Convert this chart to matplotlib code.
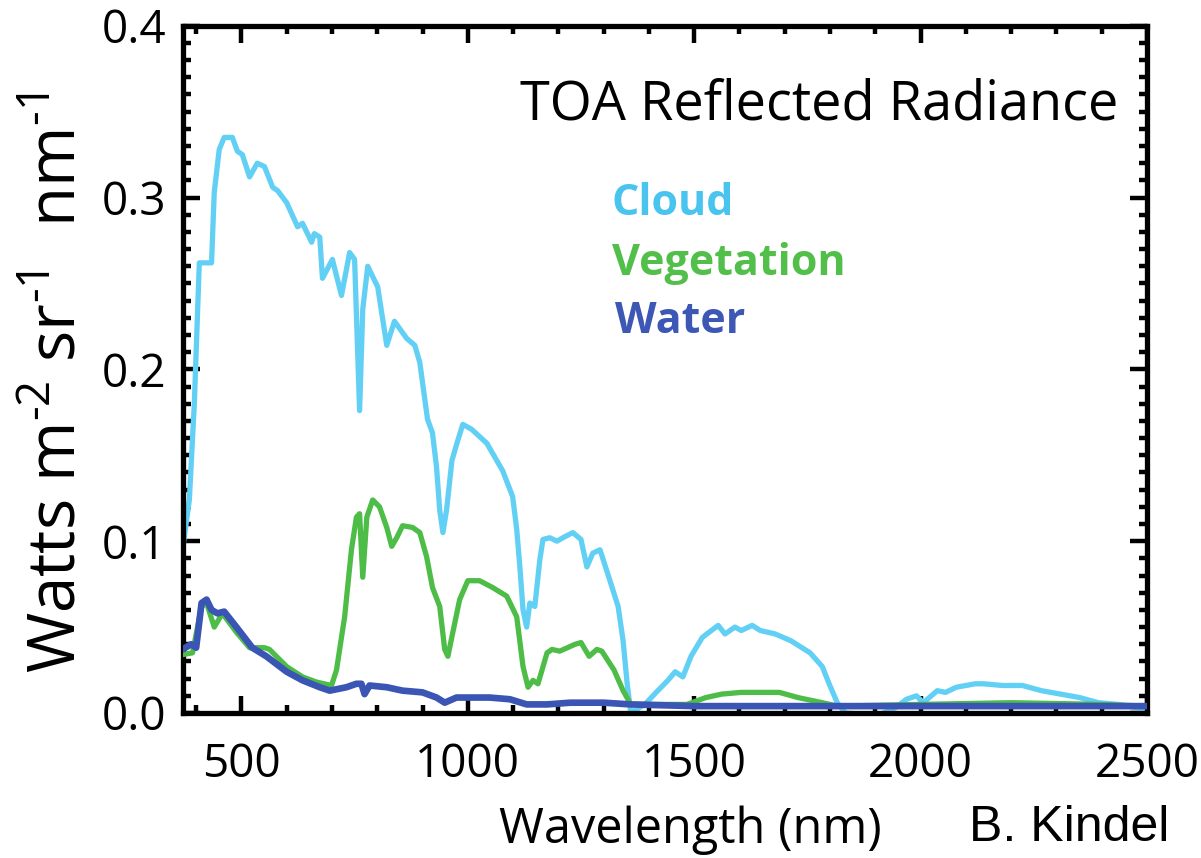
import matplotlib
matplotlib.use("Agg")
import matplotlib.pyplot as plt
from matplotlib.ticker import MultipleLocator, FormatStrFormatter

# ---- data ----
cloud_wl = [370, 385, 396, 407, 434, 440, 451, 462, 480, 491, 502, 518, 535, 551, 569, 580,
            600, 624, 635, 655, 661, 673, 679, 701, 721, 739, 750, 761, 768, 779, 801, 821,
            838, 865, 883, 894, 911, 922, 931, 938, 945, 953, 965, 976, 989, 1009, 1042,
            1077, 1099, 1108, 1115, 1122, 1130, 1137, 1148, 1159, 1166, 1181, 1197, 1210,
            1232, 1250, 1263, 1276, 1292, 1314, 1332, 1343, 1352, 1360, 1391, 1416, 1442,
            1458, 1475, 1493, 1518, 1553, 1568, 1590, 1604, 1628, 1646, 1679, 1714, 1756,
            1783, 1798, 1816, 1834, 1885, 1909, 1944, 1969, 1991, 2006, 2037, 2055, 2079,
            2121, 2139, 2181, 2225, 2267, 2309, 2351, 2393, 2437, 2480, 2500]
cloud_val = [0.095, 0.124, 0.180, 0.262, 0.262, 0.303, 0.328, 0.335, 0.335, 0.327, 0.325,
             0.312, 0.320, 0.318, 0.306, 0.304, 0.297, 0.283, 0.285, 0.274, 0.279, 0.277,
             0.253, 0.264, 0.243, 0.268, 0.264, 0.176, 0.235, 0.260, 0.248, 0.214, 0.228,
             0.218, 0.214, 0.204, 0.171, 0.163, 0.143, 0.118, 0.105, 0.118, 0.147, 0.157,
             0.168, 0.165, 0.157, 0.141, 0.126, 0.107, 0.085, 0.060, 0.050, 0.064, 0.062,
             0.089, 0.101, 0.102, 0.100, 0.102, 0.105, 0.101, 0.085, 0.093, 0.095, 0.077,
             0.062, 0.042, 0.017, 0.000, 0.005, 0.012, 0.019, 0.024, 0.021, 0.033, 0.044,
             0.051, 0.046, 0.050, 0.048, 0.051, 0.048, 0.046, 0.042, 0.035, 0.027, 0.017,
             0.006, 0.000, -0.001, -0.001, 0.003, 0.008, 0.010, 0.006, 0.013, 0.012, 0.015,
             0.017, 0.017, 0.016, 0.016, 0.013, 0.011, 0.009, 0.006, 0.005, 0.003, 0.002]

veg_wl = [370, 392, 412, 423, 440, 458, 489, 518, 551, 562, 600, 635, 666, 699, 710, 728,
          743, 754, 761, 768, 777, 790, 805, 821, 832, 843, 856, 878, 894, 909, 922, 938,
          949, 956, 967, 982, 1000, 1026, 1055, 1086, 1108, 1122, 1133, 1144, 1155, 1175,
          1186, 1203, 1237, 1250, 1268, 1285, 1296, 1323, 1343, 1360, 1416, 1484, 1526,
          1561, 1604, 1646, 1688, 1729, 1783, 1816, 2000, 2200, 2400, 2500]
veg_val = [0.034, 0.035, 0.062, 0.064, 0.050, 0.058, 0.047, 0.038, 0.038, 0.037, 0.027,
           0.021, 0.018, 0.016, 0.025, 0.056, 0.095, 0.114, 0.116, 0.079, 0.114, 0.124,
           0.120, 0.108, 0.097, 0.102, 0.109, 0.108, 0.105, 0.091, 0.073, 0.062, 0.037,
           0.033, 0.047, 0.066, 0.077, 0.077, 0.073, 0.068, 0.056, 0.027, 0.015, 0.019,
           0.017, 0.035, 0.037, 0.036, 0.040, 0.041, 0.033, 0.037, 0.036, 0.025, 0.013,
           0.005, 0.005, 0.005, 0.009, 0.011, 0.012, 0.012, 0.012, 0.009, 0.006, 0.004,
           0.005, 0.006, 0.005, 0.004]

water_wl = [370, 389, 400, 412, 423, 434, 447, 462, 489, 524, 555, 600, 635, 673, 695,
            732, 754, 765, 772, 783, 821, 856, 900, 931, 949, 975, 1004, 1048, 1093, 1130,
            1175, 1226, 1300, 1360, 1500, 1800, 2000, 2200, 2500]
water_val = [0.037, 0.040, 0.038, 0.064, 0.066, 0.060, 0.058, 0.059, 0.050, 0.038, 0.033,
             0.024, 0.019, 0.015, 0.013, 0.015, 0.017, 0.017, 0.011, 0.016, 0.015, 0.013,
             0.012, 0.009, 0.006, 0.009, 0.009, 0.009, 0.008, 0.005, 0.005, 0.006, 0.006,
             0.005, 0.004, 0.004, 0.004, 0.004, 0.004]

x_ticks = [500, 1000, 1500, 2000, 2500]
x_tick_labels = ['500', '1000', '1500', '2000', '2500']
y_ticks = [0.0, 0.1, 0.2, 0.3, 0.4]

# ---- style ----
plt.rcParams['font.family'] = ['Open Sans', 'DejaVu Sans']
plt.rcParams['mathtext.fontset'] = 'custom'
plt.rcParams['mathtext.rm'] = 'Open Sans'
c_cloud = '#62d0f5'
c_veg = '#4dbd48'
c_water = '#3b55b5'

fig = plt.figure(figsize=(12.01, 8.58), dpi=100)
ax = fig.add_axes([0.152, 0.169, 0.803, 0.801])

ax.plot(cloud_wl, cloud_val, color=c_cloud, lw=3.8, solid_joinstyle='round', zorder=2)
ax.plot(veg_wl, veg_val, color=c_veg, lw=3.8, solid_joinstyle='round', zorder=3)
ax.plot(water_wl, water_val, color=c_water, lw=4.8, solid_joinstyle='round', zorder=4)

ax.set_xlim(370, 2500)
ax.set_ylim(0, 0.4)
ax.set_xticks(x_ticks)
ax.set_yticks(y_ticks)
ax.xaxis.set_minor_locator(MultipleLocator(100))
ax.yaxis.set_minor_locator(MultipleLocator(0.01))
ax.yaxis.set_major_formatter(FormatStrFormatter('%.1f'))

for s in ax.spines.values():
    s.set_linewidth(3.8)
ax.tick_params(which='both', direction='in', top=True, right=True, width=3.2,
               labelsize=33)
ax.tick_params(which='major', length=12)
ax.tick_params(which='minor', length=6)
ax.tick_params(axis='x', labelbottom=False)
ax.tick_params(axis='y', which='major', pad=12)

# x tick labels placed under their ticks via the axis transform
xt = ax.get_xaxis_transform()
for v, lab in zip(x_ticks, x_tick_labels):
    ax.text(v, -0.075, lab, transform=xt, ha='center', va='center', fontsize=33,
            clip_on=False)

ax.set_xlabel('Wavelength (nm)', fontsize=35)
ax.xaxis.set_label_coords(0.527, -0.135)
ax.set_ylabel(r'Watts m$^{\mathregular{\text{-}2}}$ sr$^{\mathregular{\text{-}1}}$  nm$^{\mathregular{\text{-}1}}$',
              fontsize=47)
ax.yaxis.set_label_coords(-0.094, 0.48)

ax.text(0.97, 0.885, 'TOA Reflected Radiance', transform=ax.transAxes,
        ha='right', va='center', fontsize=39, color='black')
ax.text(0.445, 0.741, 'Cloud', transform=ax.transAxes, ha='left', va='center',
        fontsize=31, fontweight='bold', color='#48c4ee')
ax.text(0.445, 0.654, 'Vegetation', transform=ax.transAxes, ha='left', va='center',
        fontsize=31, fontweight='bold', color='#52bf4a')
ax.text(0.448, 0.569, 'Water', transform=ax.transAxes, ha='left', va='center',
        fontsize=31, fontweight='bold', color='#3d57b5')

fig.text(0.974, 0.035, 'B. Kindel', ha='right', va='center', fontsize=36,
         family=['Liberation Sans', 'DejaVu Sans'])

fig.savefig('out.png', dpi=100)
